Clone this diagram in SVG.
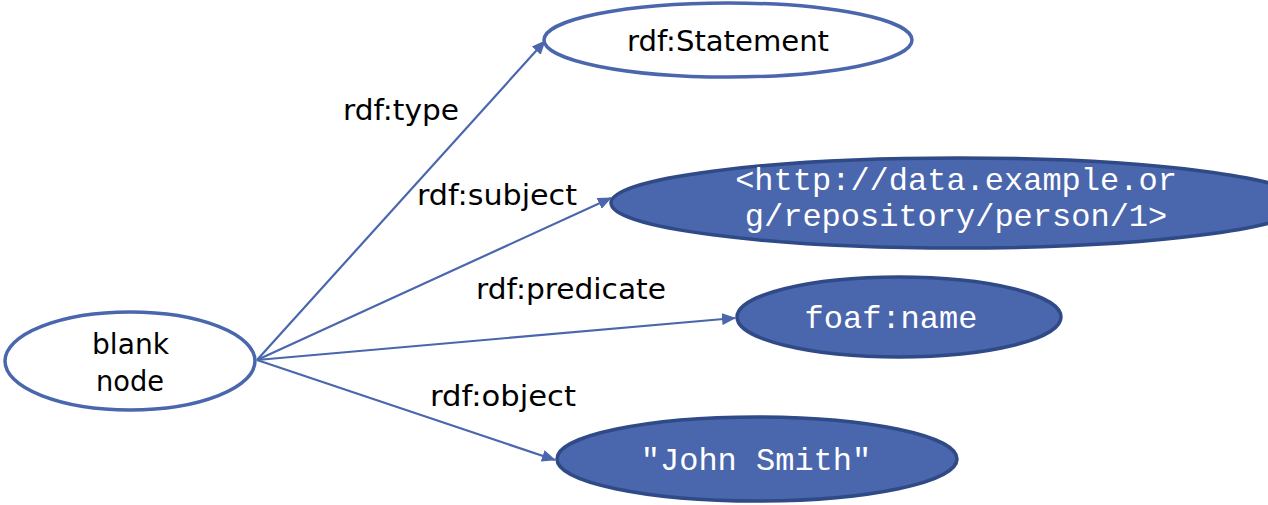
<svg xmlns="http://www.w3.org/2000/svg" width="1268" height="505" viewBox="0 0 1268 505">
  <style>
    .outline { fill: #ffffff; stroke: #4A67AE; stroke-width: 3.5; }
    .filled { fill: #4A66AC; stroke: #2F4A86; stroke-width: 3.5; }
    .sans { font-family: "DejaVu Sans", "Liberation Sans", sans-serif; font-size: 28px; fill: #000000; }
    .mono { font-family: "Liberation Mono", "DejaVu Sans Mono", monospace; font-size: 32px; fill: #ffffff; }
    .edge { stroke: #4A67AE; stroke-width: 2.2; fill: none; marker-end: url(#arrow); }
  </style>
  <defs>
    <marker id="arrow" viewBox="0 0 14 12" refX="13" refY="6" markerWidth="14" markerHeight="12" markerUnits="userSpaceOnUse" orient="auto">
      <path d="M0,0 L14,6 L0,12 Z" fill="#4A67AE"/>
    </marker>
  </defs>
  <rect width="1268" height="505" fill="#ffffff"/>

  <!-- connectors from the blank node -->
  <g id="connectors">
    <line class="edge" x1="257" y1="360" x2="545" y2="41"/>
    <line class="edge" x1="257" y1="360" x2="611" y2="198"/>
    <line class="edge" x1="257" y1="360" x2="735" y2="318"/>
    <line class="edge" x1="257" y1="360" x2="555" y2="460"/>
    <text class="sans" x="343" y="120" textLength="116" lengthAdjust="spacingAndGlyphs">rdf:type</text>
    <text class="sans" x="417" y="205" textLength="160" lengthAdjust="spacingAndGlyphs">rdf:subject</text>
    <text class="sans" x="476" y="299" textLength="190" lengthAdjust="spacingAndGlyphs">rdf:predicate</text>
    <text class="sans" x="430" y="406" textLength="146" lengthAdjust="spacingAndGlyphs">rdf:object</text>
  </g>

  <g id="blank-node">
    <ellipse class="outline" cx="130" cy="361" rx="125" ry="49"/>
    <text class="sans" x="92" y="354" textLength="77" lengthAdjust="spacingAndGlyphs">blank</text>
    <text class="sans" x="96" y="391" textLength="68" lengthAdjust="spacingAndGlyphs">node</text>
  </g>

  <g id="statement">
    <ellipse class="outline" cx="728" cy="40" rx="184" ry="37"/>
    <text class="sans" x="627" y="51" textLength="202" lengthAdjust="spacingAndGlyphs">rdf:Statement</text>
  </g>

  <g id="subject">
    <ellipse class="filled" cx="958" cy="203" rx="347" ry="45"/>
    <text class="mono" x="956" y="190" text-anchor="middle">&lt;http://data.example.or</text>
    <text class="mono" x="956" y="226" text-anchor="middle">g/repository/person/1&gt;</text>
  </g>

  <g id="predicate">
    <ellipse class="filled" cx="899" cy="317" rx="162" ry="40"/>
    <text class="mono" x="891" y="328" text-anchor="middle">foaf:name</text>
  </g>

  <g id="object">
    <ellipse class="filled" cx="757" cy="459" rx="200" ry="42"/>
    <text class="mono" x="756" y="470" text-anchor="middle">"John Smith"</text>
  </g>
</svg>
